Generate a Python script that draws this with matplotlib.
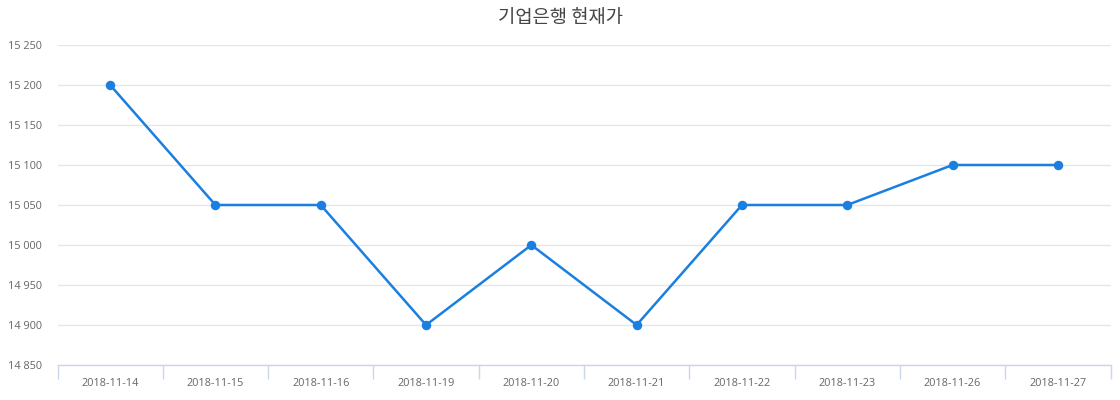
import matplotlib
matplotlib.use("Agg")
import matplotlib.pyplot as plt
from matplotlib.ticker import FuncFormatter, FixedLocator, MultipleLocator

dates = ["2018-11-14", "2018-11-15", "2018-11-16", "2018-11-19", "2018-11-20",
         "2018-11-21", "2018-11-22", "2018-11-23", "2018-11-26", "2018-11-27"]
prices = [15200, 15050, 15050, 14900, 15000, 14900, 15050, 15050, 15100, 15100]
title = "기업은행 현재가"

fig = plt.figure(figsize=(11.2, 4.0), dpi=100)
ax = fig.add_axes([57.5 / 1120, 35 / 400, (1110.5 - 57.5) / 1120, 320 / 400])

x = list(range(len(dates)))
line_color = "#1a7fe0"
ax.plot(x, prices, color=line_color, lw=1.8, marker="o", ms=5.8, zorder=3, clip_on=False)

ax.set_xlim(-0.5, len(dates) - 0.5)
ax.set_ylim(14850, 15250)
ax.yaxis.set_major_locator(MultipleLocator(50))
ax.yaxis.set_major_formatter(FuncFormatter(lambda v, p: f"{int(v):,}".replace(",", " ")))
ax.grid(axis="y", color="#e6e6e6", lw=1)
ax.set_axisbelow(True)

ax.set_xticks(x)
ax.set_xticklabels(dates)
ax.xaxis.set_minor_locator(FixedLocator([i - 0.5 for i in range(len(dates) + 1)]))
ax.tick_params(axis="x", which="major", length=0, pad=9, labelsize=7.8, labelcolor="#666666")
ax.tick_params(axis="x", which="minor", length=10, color="#ccd6eb", width=1)
ax.tick_params(axis="y", length=0, pad=11, labelsize=7.8, labelcolor="#666666")
for lab in ax.get_xticklabels() + ax.get_yticklabels():
    lab.set_family(["Open Sans", "DejaVu Sans"])

for s in ["top", "right", "left"]:
    ax.spines[s].set_visible(False)
ax.spines["bottom"].set_color("#ccd6eb")
ax.spines["bottom"].set_linewidth(1)

fig.text(0.5, 1 - 18 / 400, title, ha="center", va="center", fontsize=13.5,
         color="#444444", family=["Noto Sans CJK KR", "DejaVu Sans"])

fig.savefig("out.png", dpi=100)
